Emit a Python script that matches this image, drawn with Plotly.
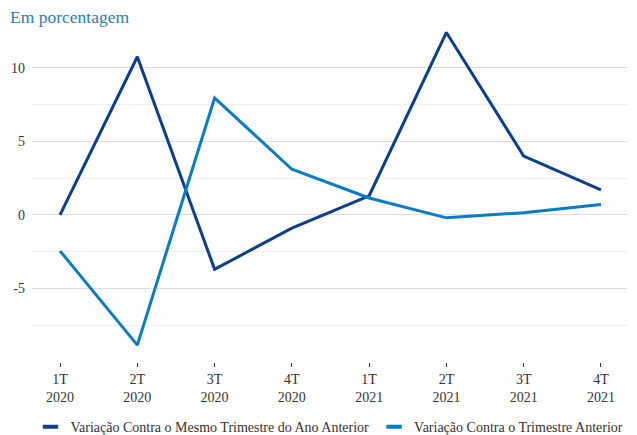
import plotly.graph_objects as go

categories = ["1T<br>2020", "2T<br>2020", "3T<br>2020", "4T<br>2020",
              "1T<br>2021", "2T<br>2021", "3T<br>2021", "4T<br>2021"]
mesmo_trimestre = [0.0, 10.75, -3.7, -0.9, 1.3, 12.4, 4.0, 1.7]
trimestre_anterior = [-2.45, -8.85, 7.95, 3.1, 1.15, -0.2, 0.15, 0.7]
series_names = ["Variação Contra o Mesmo Trimestre do Ano Anterior",
                "Variação Contra o Trimestre Anterior"]
series_colors = ["#0b3f8c", "#0a7cc1"]
y_major = [10, 5, 0, -5]
y_minor = [12.5, 7.5, 2.5, -2.5, -7.5]

FONT = "'Liberation Serif', 'DejaVu Serif', serif"
x_idx = list(range(len(categories)))

fig = go.Figure()
for vals, name, col in zip([mesmo_trimestre, trimestre_anterior], series_names, series_colors):
    fig.add_trace(go.Scatter(x=x_idx, y=vals, mode="lines", name=name,
                             showlegend=False, line=dict(color=col, width=3)))
# legend entries with short bar glyphs
for name, col in zip(series_names, series_colors):
    fig.add_trace(go.Scatter(x=[None], y=[None], mode="markers", name=name,
                             marker=dict(symbol="line-ew", size=11,
                                         line=dict(color=col, width=4))))

fig.update_layout(
    width=637, height=435,
    margin=dict(l=32, r=10, t=31, b=73),
    paper_bgcolor="white", plot_bgcolor="white",
    font=dict(family=FONT, size=14, color="#333333"),
    showlegend=True,
    legend=dict(orientation="h", x=0.5, xanchor="center",
                yref="container", y=0.018, yanchor="middle",
                font=dict(family=FONT, size=14, color="#333333"),
                itemwidth=30, tracegroupgap=0),
    xaxis=dict(range=[-0.363, 7.337], tickmode="array", tickvals=x_idx,
               ticktext=categories, showgrid=False, zeroline=False,
               automargin=False,
               ticks="outside", ticklen=4, tickcolor="#333333", tickwidth=1,
               ticklabelstandoff=0,
               showline=False, tickfont=dict(family=FONT, size=14, color="#333333")),
    yaxis=dict(range=[-10, 12.5], tickmode="array", tickvals=y_major,
               ticktext=[str(v) for v in y_major],
               showgrid=True, gridcolor="#dcdcdc", gridwidth=1,
               zeroline=False, showline=False, ticks="",
               automargin=False,
               ticklabelstandoff=6,
               tickfont=dict(family=FONT, size=14, color="#333333"),
               minor=dict(tickvals=y_minor, showgrid=True, gridcolor="#eeeeee",
                          gridwidth=1, ticks="")),
    annotations=[
        dict(text="Em porcentagem", xref="paper", yref="paper",
             x=-0.04, y=1.0, xanchor="left", yanchor="bottom", showarrow=False,
             yshift=2,
             font=dict(family=FONT, size=17.5, color="#2e7cb5")),
        dict(text="Produto Interno Bruto (PIB) – Comparação", xref="paper", yref="paper",
             x=-0.04, y=1.0, xanchor="left", yanchor="bottom", showarrow=False,
             yshift=29,
             font=dict(family=FONT, size=17.5, color="#2e7cb5")),
    ],
)

fig.write_html("out.html", config={"displayModeBar": False},
               post_script="document.body.style.margin='0';")
